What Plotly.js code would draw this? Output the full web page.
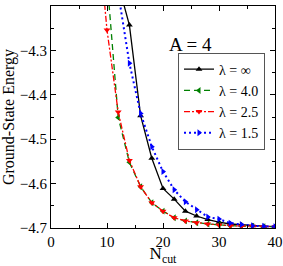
<!DOCTYPE html>
<html>
<head>
<meta charset="utf-8">
<script src="https://cdn.plot.ly/plotly-3.0.1.min.js"></script>
<style>
html,body{margin:0;padding:0;background:#fff;}
#chart{width:283px;height:266px;}
#chart svg text{font-family:"Liberation Serif","Times New Roman","DejaVu Serif",serif !important;fill:#000 !important;}
#chart g.xtick text,#chart g.ytick text{font-size:15px !important;}
#chart text.legendtext{font-size:14px !important;}
#chart g.annotation text{font-size:19px !important;}
#chart text.xtitle{font-size:17px !important;}
#chart text.ytitle{font-size:16px !important;}
</style>
</head>
<body>
<div id="chart"></div>
<script>
// N_cut values
const nInf = [12, 14, 16, 18, 20, 22, 24, 26, 28, 30, 32, 34, 36, 38, 40];
const eInf = [-4.15, -4.243, -4.447, -4.543, -4.611, -4.635, -4.662, -4.673, -4.681, -4.687, -4.691, -4.693, -4.695, -4.696, -4.697];

const n40 = [8, 10, 12, 14, 16, 18, 20, 22, 24, 26, 28, 30, 32, 34, 36, 38, 40];
const e40 = [-3.95, -4.14, -4.451, -4.552, -4.607, -4.643, -4.662, -4.677, -4.684, -4.688, -4.691, -4.693, -4.695, -4.696, -4.696, -4.697, -4.697];

const n25 = [8, 10, 12, 14, 16, 18, 20, 22, 24, 26, 28, 30, 32, 34, 36, 38, 40];
const e25 = [-3.98, -4.254, -4.439, -4.548, -4.607, -4.643, -4.662, -4.677, -4.684, -4.688, -4.691, -4.693, -4.695, -4.696, -4.696, -4.697, -4.697];

const n15 = [12, 14, 16, 18, 20, 22, 24, 26, 28, 30, 32, 34, 36, 38, 40];
const e15 = [-4.17, -4.329, -4.442, -4.517, -4.573, -4.614, -4.641, -4.659, -4.675, -4.680, -4.689, -4.692, -4.695, -4.696, -4.697];

const names = ['λ = ∞', 'λ = 4.0', 'λ = 2.5', 'λ = 1.5'];
const xTicks = [0, 10, 20, 30, 40];
const yTicks = [-4.7, -4.6, -4.5, -4.4, -4.3, -4.2];
const yTickText = ['−4.7', '−4.6', '−4.5', '−4.4', '−4.3', '−4.2'];

const FAM = 'Liberation Serif';

const traces = [
  {x: nInf, y: eInf, name: names[0], mode: 'lines+markers',
   line: {color: '#000000', width: 1.3},
   marker: {symbol: 'triangle-up', size: 6, color: '#000000'}},
  {x: n40, y: e40, name: names[1], mode: 'lines+markers',
   line: {color: '#008000', width: 1.3, dash: '6px,4px'},
   marker: {symbol: 'triangle-left', size: 6, color: '#008000'}},
  {x: n25, y: e25, name: names[2], mode: 'lines+markers',
   line: {color: '#ff0000', width: 1.3, dash: '6px,2px,2px,2px'},
   marker: {symbol: 'triangle-down', size: 6, color: '#ff0000'}},
  {x: n15, y: e15, name: names[3], mode: 'lines+markers',
   line: {color: '#0000ff', width: 2, dash: '2px,3px'},
   marker: {symbol: 'triangle-right', size: 6, color: '#0000ff'}}
];

const layout = {
  width: 283, height: 266,
  margin: {l: 51, r: 8, t: 6, b: 38},
  font: {family: FAM, size: 15, color: 'black'},
  showlegend: true,
  legend: {
    x: 0.567, y: 0.79, xanchor: 'left', yanchor: 'top',
    bgcolor: 'white', bordercolor: '#555', borderwidth: 1,
    font: {family: FAM, size: 14}
  },
  xaxis: {
    range: [0, 40], tickvals: xTicks, ticktext: xTicks.map(String),
    showline: true, linecolor: 'black', linewidth: 1, mirror: 'allticks',
    ticks: 'inside', ticklen: 5, tickcolor: 'black',
    showgrid: false, zeroline: false,
    tickfont: {family: FAM, size: 15},
    minor: {ticks: 'inside', dtick: 5, ticklen: 3, tickcolor: 'black'},
    title: {text: 'N<sub>cut</sub>', font: {family: FAM, size: 17}, standoff: 2}
  },
  yaxis: {
    range: [-4.7, -4.2], tickvals: yTicks, ticktext: yTickText,
    showline: true, linecolor: 'black', linewidth: 1, mirror: 'allticks',
    ticks: 'inside', ticklen: 5, tickcolor: 'black',
    showgrid: false, zeroline: false,
    tickfont: {family: FAM, size: 15},
    minor: {ticks: 'inside', dtick: 0.05, ticklen: 3, tickcolor: 'black'},
    title: {text: 'Ground-State Energy', font: {family: FAM, size: 16}, standoff: 4}
  },
  annotations: [{
    text: 'A = 4', xref: 'paper', yref: 'paper', x: 0.728, y: 0.883,
    showarrow: false, font: {family: FAM, size: 19}
  }]
};

Plotly.newPlot('chart', traces, layout, {staticPlot: true});
</script>
</body>
</html>
